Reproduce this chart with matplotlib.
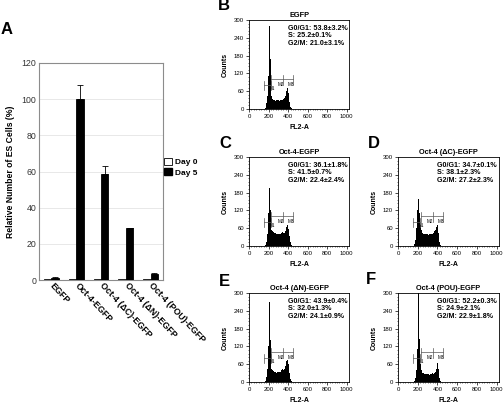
import matplotlib
matplotlib.use("Agg")
import matplotlib.pyplot as plt
import numpy as np
from matplotlib.patches import Patch
from matplotlib.ticker import MultipleLocator

plt.rcParams["font.family"] = ["Liberation Sans", "DejaVu Sans"]

# ---- panel A data ----
constructs = ["EGFP", "Oct-4-EGFP", "Oct-4 (\u0394C)-EGFP", "Oct-4 (\u0394N)-EGFP", "Oct-4 (POU)-EGFP"]
day0 = [0.5, 0.5, 0.5, 0.5, 0.5]
day5 = [1.2, 100.0, 58.5, 28.5, 3.3]
day5_err = [0.2, 8.0, 4.3, 0.5, 0.4]

# ---- FACS histograms (FL2-A bins, 10 units wide) ----
bin_left = [150, 160, 170, 180, 190, 200, 210, 220, 230, 240, 250, 260, 270, 280, 290,
            300, 310, 320, 330, 340, 350, 360, 370, 380, 390, 400, 410, 420, 430, 440]
counts_egfp = [0, 3, 20, 45, 110, 280, 170, 70, 45, 35, 32, 30, 28, 30, 32,
               30, 28, 30, 32, 30, 33, 38, 45, 60, 70, 55, 25, 8, 2, 0]
counts_oct4 = [0, 5, 15, 40, 110, 195, 120, 70, 55, 50, 48, 45, 45, 42, 40,
               42, 40, 42, 45, 48, 45, 45, 52, 65, 72, 58, 35, 12, 3, 0]
counts_dc = [0, 8, 20, 60, 120, 160, 110, 70, 55, 45, 42, 40, 42, 40, 40,
             38, 40, 42, 40, 42, 45, 50, 55, 65, 75, 70, 45, 15, 3, 0]
counts_dn = [0, 5, 18, 45, 120, 270, 140, 60, 45, 40, 38, 35, 35, 32, 35,
             35, 33, 35, 40, 45, 42, 45, 55, 70, 75, 60, 30, 10, 2, 0]
counts_pou = [0, 5, 15, 40, 110, 300, 145, 60, 40, 32, 30, 28, 27, 27, 26,
              27, 25, 27, 28, 30, 28, 30, 35, 45, 60, 65, 45, 12, 2, 0]

hist_titles = ["EGFP", "Oct-4-EGFP", "Oct-4 (\u0394C)-EGFP", "Oct-4 (\u0394N)-EGFP", "Oct-4 (POU)-EGFP"]
g1 = ["53.8\u00b13.2%", "36.1\u00b11.8%", "34.7\u00b10.1%", "43.9\u00b10.4%", "52.2\u00b10.3%"]
s_phase = ["25.2\u00b10.1%", "41.5\u00b10.7%", "38.1\u00b12.3%", "32.0\u00b11.3%", "24.9\u00b12.1%"]
g2m = ["21.0\u00b13.1%", "22.4\u00b12.4%", "27.2\u00b12.3%", "24.1\u00b10.9%", "22.9\u00b11.8%"]
hist_counts = [counts_egfp, counts_oct4, counts_dc, counts_dn, counts_pou]

W, H = 503, 403
fig = plt.figure(figsize=(W / 100, H / 100), dpi=100)


def px_axes(l, t, r, b):
    return fig.add_axes([l / W, 1 - b / H, (r - l) / W, (b - t) / H])


# ---------------- panel A ----------------
ax = px_axes(39, 63, 163, 280)
x = np.arange(len(constructs))
bw = 0.3
ax.bar(x - 0.15, day0, bw, color="white", edgecolor="black", linewidth=0.6, zorder=3)
ax.bar(x + 0.15, day5, bw, color="black", edgecolor="black", linewidth=0.6, zorder=3)
ax.errorbar(x + 0.15, day5, yerr=[np.zeros(len(day5)), day5_err], fmt="none",
            ecolor="black", elinewidth=0.6, capsize=2.5, capthick=0.6, zorder=4)
ax.set_xlim(-0.5, 4.5)
ax.set_ylim(0, 120)
ax.set_yticks(range(0, 121, 20))
ax.yaxis.grid(True, color="#e4e4e4", linewidth=0.6)
ax.set_axisbelow(True)
for sp in ax.spines.values():
    sp.set_color("#8c8c8c")
    sp.set_linewidth(0.8)
ax.tick_params(axis="y", labelsize=6.3, length=0, pad=2, colors="#333333")
ax.tick_params(axis="x", length=0, pad=3)
ax.set_xticks(x)
ax.set_xticklabels(constructs, rotation=-47, ha="left", va="center",
                   rotation_mode="anchor", fontsize=6.4, fontweight="bold")
ax.set_ylabel("Relative Number of ES Cells (%)", fontsize=6.2, fontweight="bold", labelpad=5)
fig.text(1 / W, 1 - 30 / H, "A", fontsize=12, fontweight="bold", va="center")
fig.legend(handles=[Patch(facecolor="white", edgecolor="black", linewidth=0.6, label="Day 0"),
                    Patch(facecolor="black", edgecolor="black", label="Day 5")],
           loc="upper left", bbox_to_anchor=(164 / W, 1 - 158 / H), frameon=False,
           handlelength=0.9, handleheight=0.9, handletextpad=0.4, labelspacing=0.25,
           borderaxespad=0, borderpad=0, prop={"size": 6, "weight": "bold"})

# ---------------- histograms ----------------
boxes = [(249, 20, 349, 109), (249, 157, 349, 246), (398, 157, 499, 246),
         (249, 293, 349, 382), (398, 293, 499, 382)]
letters = ["B", "C", "D", "E", "F"]
letter_pos = [(218, 6), (219, 144), (368, 144), (219, 281), (366, 279)]

edges = list(bin_left) + [bin_left[-1] + 10]
for i, (box, counts) in enumerate(zip(boxes, hist_counts)):
    ax = px_axes(*box)
    ax.stairs(counts, edges, fill=True, color="black", linewidth=0)
    ax.set_xlim(0, 1023)
    ax.set_ylim(0, 300)
    ax.set_xticks(range(0, 1001, 200))
    ax.set_yticks(range(0, 301, 60))
    ax.xaxis.set_minor_locator(MultipleLocator(25))
    ax.yaxis.set_minor_locator(MultipleLocator(12))
    ax.tick_params(which="major", labelsize=4.3, length=2, width=0.5, pad=1.5)
    ax.tick_params(which="minor", length=1, width=0.4)
    for sp in ax.spines.values():
        sp.set_linewidth(0.6)
    ax.set_title(hist_titles[i], fontsize=5.3, fontweight="bold", pad=2)
    ax.set_xlabel("FL2-A", fontsize=5, fontweight="bold")
    ax.set_ylabel("Counts", fontsize=5, fontweight="bold")
    ax.xaxis.set_label_coords(0.5, -0.17)
    ax.yaxis.set_label_coords(-0.2, 0.5)
    stats = ["G0/G1: " + g1[i], "S: " + s_phase[i], "G2/M: " + g2m[i]]
    for k, line in enumerate(stats):
        ax.text(0.385, 0.905 - k * 0.083, line, transform=ax.transAxes,
                fontsize=5.1, fontweight="bold", va="center", ha="left")
    # gate markers
    kw = dict(color="#555555", linewidth=0.5)
    ax.plot([150, 225], [80, 80], **kw)
    ax.plot([150, 150], [65, 95], **kw)
    ax.plot([225, 225], [65, 95], **kw)
    ax.plot([230, 455], [100, 100], **kw)
    for gx in (230, 350, 455):
        ax.plot([gx, gx], [80, 115], **kw)
    ax.text(232, 68, "M1", fontsize=3.3, va="center", ha="center")
    ax.text(325, 84, "M2", fontsize=3.3, va="center", ha="center")
    ax.text(432, 84, "M3", fontsize=3.3, va="center", ha="center")
    lx, ly = letter_pos[i]
    fig.text(lx / W, 1 - ly / H, letters[i], fontsize=12, fontweight="bold", va="center")

fig.savefig("out.png", dpi=100)
